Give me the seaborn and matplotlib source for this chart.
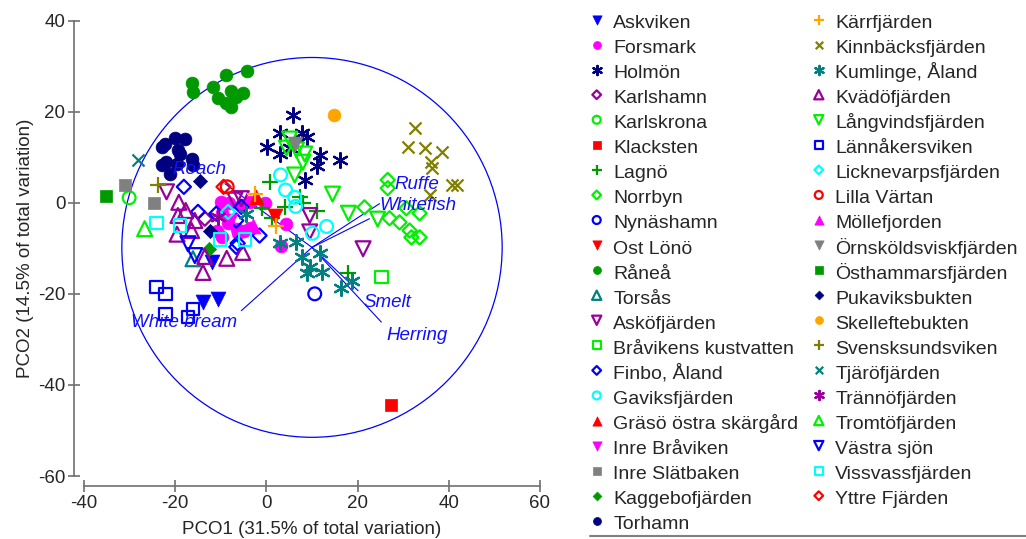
import matplotlib
matplotlib.use("Agg")
import matplotlib.pyplot as plt
from matplotlib.lines import Line2D
from matplotlib.patches import Circle
import pandas as pd
import seaborn as sns

# PCO scores (PCO1, PCO2) per site
askviken_pc1 = [-12.0, -13.9, -10.6]
askviken_pc2 = [-13.0, -21.8, -21.1]
forsmark_pc1 = [-10.0, -8.3, -5.4, -3.7, -0.2, -9.8, -8.5, -6.5, -5.0, -10.9, -9.8, 4.4, 3.1, -3.7, -6.3]
forsmark_pc2 = [0.1, -0.1, -0.6, 0.1, -0.1, -2.3, -4.5, -5.8, -6.1, -6.1, -7.6, -4.7, -9.4, -5.6, -6.7]
holmon_pc1 = [5.8, 2.9, 7.7, 8.8, 0.1, 2.9, 11.7, 11.0, 16.1, 8.4, 5.1]
holmon_pc2 = [19.3, 15.3, 15.3, 14.4, 12.2, 10.7, 10.5, 8.0, 9.4, 5.0, 12.0]
karlshamn_pc1 = [-13.5]
karlshamn_pc2 = [-3.5]
karlskrona_pc1 = [-30.1]
karlskrona_pc2 = [1.1]
klacksten_pc1 = [27.4]
klacksten_pc2 = [-44.3]
lagno_pc1 = [0.7, 7.3, 8.0, 4.0, 11.2, 1.2, 17.8, -1.0]
lagno_pc2 = [4.5, 1.2, -0.1, -1.0, -1.7, -3.4, -15.5, -1.2]
norrbyn_pc1 = [26.6, 26.6, 21.5, 27.0, 29.2, 31.4, 31.8, 33.6, 30.7, 33.6]
norrbyn_pc2 = [5.0, 3.2, -1.0, -3.4, -4.3, -6.1, -7.6, -7.6, -1.2, -2.3]
nynashamn_pc1 = [10.6]
nynashamn_pc2 = [-20.0]
ostlono_pc1 = [1.8]
ostlono_pc2 = [-2.8]
ranea_pc1 = [-16.4, -16.1, -11.7, -10.6, -8.9, -7.7, -8.8, -7.7, -5.1, -4.2, -6.7]
ranea_pc2 = [26.2, 24.4, 25.5, 23.1, 28.1, 24.6, 21.8, 21.1, 24.0, 29.0, 23.2]
torsas_pc1 = [-16.1]
torsas_pc2 = [-12.3]
askofjarden_pc1 = [-21.9, -6.9, -5.5, 9.5, 9.5, 21.2]
askofjarden_pc2 = [2.4, 0.6, 0.9, -2.8, -6.4, -10.1]
bravikens_pc1 = [25.2]
bravikens_pc2 = [-16.3]
finbo_pc1 = [-18.1, -15.0, -11.0, -5.5, -6.6, -1.5, -6.3, -6.6]
finbo_pc2 = [3.5, -2.0, -2.4, -0.9, -3.9, -7.2, -8.9, -9.7]
gaviks_pc1 = [3.1, 4.2, 6.2, 6.4, 13.2, 10.1]
gaviks_pc2 = [6.1, 2.8, 1.2, -0.8, -5.2, -6.7]
graso_pc1 = [-2.2]
graso_pc2 = [1.3]
inrebraviken_pc1 = [-8.0]
inrebraviken_pc2 = [-4.0]
inreslatbaken_pc1 = [-30.9, -24.7]
inreslatbaken_pc2 = [3.9, 0.0]
kaggebo_pc1 = [-12.6]
kaggebo_pc2 = [-10.1]
torhamn_pc1 = [-22.3, -20.1, -17.9, -22.8, -19.0, -16.4, -22.1, -19.7, -16.1, -23.0, -21.2, -19.4]
torhamn_pc2 = [13.0, 14.3, 14.1, 12.3, 10.8, 9.7, 9.0, 8.6, 8.3, 8.3, 6.4, 11.6]
karrfjarden_pc1 = [-2.6, 2.2]
karrfjarden_pc2 = [2.0, -5.0]
kinnbacks_pc1 = [32.5, 31.0, 34.7, 38.6, 36.2, 36.4, 40.6, 41.7, 35.8]
kinnbacks_pc2 = [16.4, 12.2, 12.0, 11.1, 8.9, 7.6, 3.9, 3.9, 1.7]
kumlinge_pc1 = [2.9, 6.4, 7.7, 11.7, 9.5, 12.3, 9.0, 16.3, 18.7, -4.4]
kumlinge_pc2 = [-8.9, -8.7, -12.0, -11.1, -14.2, -15.3, -15.5, -18.8, -17.1, -2.4]
kvado_pc1 = [-19.2, -19.4, -15.7, -19.6, -16.4, -13.5, -13.9, -8.7, -5.2, -17.7]
kvado_pc2 = [0.1, -2.8, -3.9, -6.9, -6.1, -11.8, -15.3, -12.2, -10.9, -1.7]
langvinds_pc1 = [5.1, 4.4, 6.6, 8.4, 8.0, 6.2, 14.5, 18.0, 24.4]
langvinds_pc2 = [14.0, 12.0, 11.6, 10.7, 8.9, 6.1, 1.9, -2.3, -3.6]
lannakers_pc1 = [-24.1, -22.1, -22.1, -16.1, -17.2]
lannakers_pc2 = [-18.5, -20.0, -24.4, -23.3, -25.1]
licknevarps_pc1 = [-8.4]
licknevarps_pc2 = [-2.0]
lillavartan_pc1 = [-8.6]
lillavartan_pc2 = [3.5]
mollefjorden_pc1 = [-3.0]
mollefjorden_pc2 = [-5.0]
ornskoldsvik_pc1 = [6.2]
ornskoldsvik_pc2 = [13.0]
osthammars_pc1 = [-35.2]
osthammars_pc2 = [1.4]
pukaviks_pc1 = [-14.6, -12.4]
pukaviks_pc2 = [4.8, -6.1]
skellefte_pc1 = [14.8]
skellefte_pc2 = [19.3]
svensksund_pc1 = [-23.7]
svensksund_pc2 = [3.9]
tjaro_pc1 = [-28.1]
tjaro_pc2 = [9.4]
tranno_pc1 = [-10.6]
tranno_pc2 = [-3.1]
tromto_pc1 = [-26.7]
tromto_pc2 = [-5.7]
vastrasjon_pc1 = [-17.2, -15.7]
vastrasjon_pc2 = [-9.0, -11.6]
vissvass_pc1 = [-24.1, -19.0, -10.2, -4.7]
vissvass_pc2 = [-4.4, -5.0, -8.1, -8.1]
yttre_pc1 = [-9.4]
yttre_pc2 = [3.5]

site_names = [
    "Askviken", "Forsmark", "Holmön", "Karlshamn", "Karlskrona", "Klacksten",
    "Lagnö", "Norrbyn", "Nynäshamn", "Ost Lönö", "Råneå", "Torsås",
    "Asköfjärden", "Bråvikens kustvatten", "Finbo, Åland", "Gaviksfjärden",
    "Gräsö östra skärgård", "Inre Bråviken", "Inre Slätbaken", "Kaggebofjärden",
    "Torhamn", "Kärrfjärden", "Kinnbäcksfjärden", "Kumlinge, Åland",
    "Kvädöfjärden", "Långvindsfjärden", "Lännåkersviken", "Licknevarpsfjärden",
    "Lilla Värtan", "Möllefjorden", "Örnsköldsviskfjärden", "Östhammarsfjärden",
    "Pukaviksbukten", "Skelleftebukten", "Svensksundsviken", "Tjäröfjärden",
    "Trännöfjärden", "Tromtöfjärden", "Västra sjön", "Vissvassfjärden",
    "Yttre Fjärden",
]
site_pc1 = [
    askviken_pc1, forsmark_pc1, holmon_pc1, karlshamn_pc1, karlskrona_pc1,
    klacksten_pc1, lagno_pc1, norrbyn_pc1, nynashamn_pc1, ostlono_pc1,
    ranea_pc1, torsas_pc1, askofjarden_pc1, bravikens_pc1, finbo_pc1,
    gaviks_pc1, graso_pc1, inrebraviken_pc1, inreslatbaken_pc1, kaggebo_pc1,
    torhamn_pc1, karrfjarden_pc1, kinnbacks_pc1, kumlinge_pc1, kvado_pc1,
    langvinds_pc1, lannakers_pc1, licknevarps_pc1, lillavartan_pc1,
    mollefjorden_pc1, ornskoldsvik_pc1, osthammars_pc1, pukaviks_pc1,
    skellefte_pc1, svensksund_pc1, tjaro_pc1, tranno_pc1, tromto_pc1,
    vastrasjon_pc1, vissvass_pc1, yttre_pc1,
]
site_pc2 = [
    askviken_pc2, forsmark_pc2, holmon_pc2, karlshamn_pc2, karlskrona_pc2,
    klacksten_pc2, lagno_pc2, norrbyn_pc2, nynashamn_pc2, ostlono_pc2,
    ranea_pc2, torsas_pc2, askofjarden_pc2, bravikens_pc2, finbo_pc2,
    gaviks_pc2, graso_pc2, inrebraviken_pc2, inreslatbaken_pc2, kaggebo_pc2,
    torhamn_pc2, karrfjarden_pc2, kinnbacks_pc2, kumlinge_pc2, kvado_pc2,
    langvinds_pc2, lannakers_pc2, licknevarps_pc2, lillavartan_pc2,
    mollefjorden_pc2, ornskoldsvik_pc2, osthammars_pc2, pukaviks_pc2,
    skellefte_pc2, svensksund_pc2, tjaro_pc2, tranno_pc2, tromto_pc2,
    vastrasjon_pc2, vissvass_pc2, yttre_pc2,
]

# species vectors (end points) and the correlation circle
vector_names = ["Roach", "White bream", "Ruffe", "Whitefish", "Smelt", "Herring"]
vector_pc1 = [-9.1, -5.5, 24.8, 22.6, 20.1, 25.2]
vector_pc2 = [4.2, -23.7, -0.2, -3.5, -19.3, -26.2]
circle_center = (10.0, -9.8)
circle_radius = 41.7

BLUE, MAGENTA, NAVY, PURPLE = "#0000FF", "#FF00FF", "#000080", "#990099"
LIME, RED, GREEN, TEAL = "#00F000", "#FF0000", "#009900", "#008080"
CYAN, GRAY, ORANGE, OLIVE = "#00FFFF", "#808080", "#FFA500", "#808000"
AST = (6, 2, 0)

# marker, colour, fill ("f" filled, "o" open, "l" line art)
site_styles = [
    ("v", BLUE, "f"), ("o", MAGENTA, "f"), (AST, NAVY, "l"), ("D", PURPLE, "o"),
    ("o", LIME, "o"), ("s", RED, "f"), ("+", GREEN, "l"), ("D", LIME, "o"),
    ("o", BLUE, "o"), ("v", RED, "f"), ("o", GREEN, "f"), ("^", TEAL, "o"),
    ("v", PURPLE, "o"), ("s", LIME, "o"), ("D", BLUE, "o"), ("o", CYAN, "o"),
    ("^", RED, "f"), ("v", MAGENTA, "f"), ("s", GRAY, "f"), ("D", GREEN, "f"),
    ("o", NAVY, "f"), ("+", ORANGE, "l"), ("x", OLIVE, "l"), (AST, TEAL, "l"),
    ("^", PURPLE, "o"), ("v", LIME, "o"), ("s", BLUE, "o"), ("D", CYAN, "o"),
    ("o", RED, "o"), ("^", MAGENTA, "f"), ("v", GRAY, "f"), ("s", GREEN, "f"),
    ("D", NAVY, "f"), ("o", ORANGE, "f"), ("+", OLIVE, "l"), ("x", TEAL, "l"),
    (AST, PURPLE, "l"), ("^", LIME, "o"), ("v", BLUE, "o"), ("s", CYAN, "o"),
    ("D", RED, "o"),
]
marker_area = {"o": 85, "v": 115, "^": 115, "s": 80, "D": 52, "+": 120, "x": 75, AST: 115}

sns.set_style("ticks")
plt.rcParams["font.family"] = ["Liberation Sans", "DejaVu Sans"]
plt.rcParams["axes.unicode_minus"] = False

rows = []
for name, xs, ys in zip(site_names, site_pc1, site_pc2):
    for x, y in zip(xs, ys):
        rows.append({"site": name, "PCO1": x, "PCO2": y})
df = pd.DataFrame(rows)

fig = plt.figure(figsize=(10.26, 5.39), dpi=100)
ax = fig.add_axes([84 / 1026, 1 - 476 / 539, 456 / 1026, 455.4 / 539])

for name, (marker, color, fill) in zip(site_names, site_styles):
    sub = df[df["site"] == name]
    kws = dict(marker=marker, s=marker_area[marker], label=name, legend=False, ax=ax, zorder=3)
    if fill == "f":
        kws.update(color=color, edgecolor=color, linewidth=0.5)
    elif fill == "o":
        kws.update(color=color, facecolor="none", edgecolor=color, linewidth=1.6)
    else:
        kws.update(color=color, linewidth=1.6)
    sns.scatterplot(data=sub, x="PCO1", y="PCO2", **kws)

cx, cy = circle_center
ax.add_patch(Circle(circle_center, circle_radius, fill=False, ec=BLUE, lw=0.9, zorder=2))
for name, ex, ey in zip(vector_names, vector_pc1, vector_pc2):
    ax.plot([cx, ex], [cy, ey], color=BLUE, lw=0.8, zorder=2)

label_pos = {
    "Roach": (-8.7, 7.2, "right"), "White bream": (-6.5, -26.2, "right"),
    "Ruffe": (28.1, 3.9, "left"), "Whitefish": (24.7, -0.6, "left"),
    "Smelt": (21.3, -21.8, "left"), "Herring": (26.3, -29.2, "left"),
}
for name in vector_names:
    tx, ty, ha = label_pos[name]
    ax.text(tx, ty, name, color="#1010FF", fontsize=13.5, fontstyle="italic",
            ha=ha, va="center", zorder=4)

ax.set_xlim(-40, 60)
ax.set_ylim(-60, 40)
ax.set_xticks([-40, -20, 0, 20, 40, 60])
ax.set_yticks([-60, -40, -20, 0, 20, 40])
ax.set_xlabel("PCO1 (31.5% of total variation)", fontsize=13.5, labelpad=7)
ax.set_ylabel("PCO2 (14.5% of total variation)", fontsize=13.5, labelpad=2.5)
sns.despine(ax=ax, offset=7)
for side in ["left", "bottom"]:
    ax.spines[side].set_color("#707070")
    ax.spines[side].set_linewidth(1.2)
ax.tick_params(direction="inout", length=9, width=1.2, color="#707070",
               labelsize=13.5, pad=2)

handles, labels = ax.get_legend_handles_labels()
ax.legend(handles, labels, loc="upper left", bbox_to_anchor=(0.574, 0.981),
          bbox_transform=fig.transFigure, ncol=2, frameon=False, fontsize=14,
          handlelength=0.8, handleheight=1.4, handletextpad=0.45,
          columnspacing=0.65, labelspacing=0.134, borderpad=0,
          borderaxespad=0, markerscale=0.62, scatterpoints=1)
fig.add_artist(Line2D([590 / 1026, 1.0], [1 - 536 / 539] * 2,
                      transform=fig.transFigure, color=GRAY, lw=1.5))

fig.savefig("out.png", dpi=100)
